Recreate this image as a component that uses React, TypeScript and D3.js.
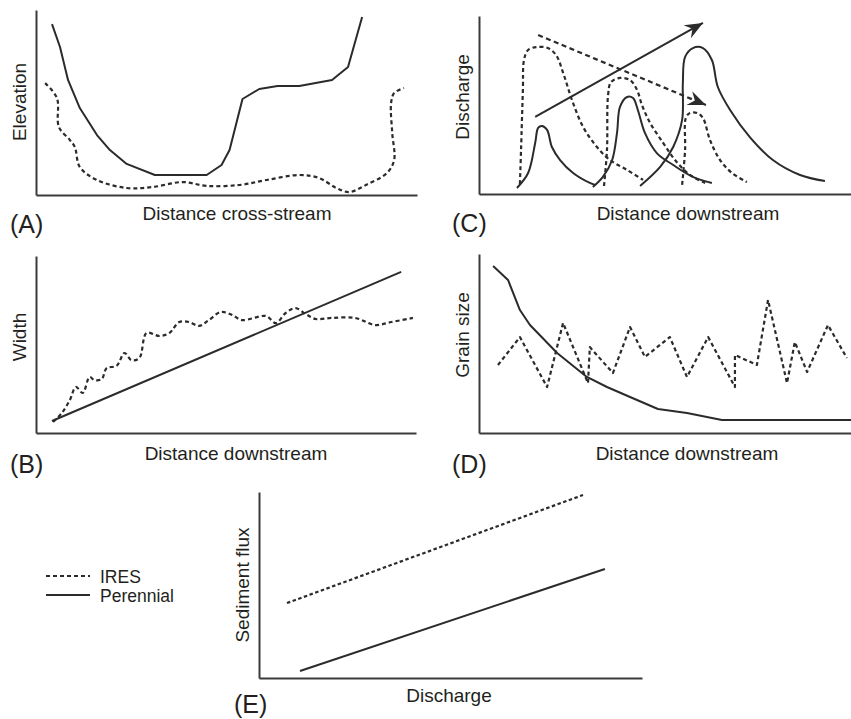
import React, { useEffect, useRef } from "react";
import * as d3 from "d3";

type Pt = [number, number];

// (A) cross-section elevation, x/y in % of axis span
const elevPerennial: Pt[] = [
  [4.2, 92.4], [6.3, 80.0], [8.4, 62.2], [11.5, 47.0], [16.0, 32.4], [19.4, 24.3],
  [23.8, 16.8], [31.2, 10.8], [44.8, 10.8], [48.7, 16.2], [50.8, 24.3], [52.6, 38.9],
  [54.2, 51.9], [58.6, 57.3], [63.4, 58.9], [69.1, 58.9], [77.7, 62.2], [81.9, 69.2],
  [85.6, 96.2],
];
const elevIres: Pt[] = [
  [2.4, 60.5], [5.5, 52.4], [6.0, 36.8], [8.9, 29.7], [10.2, 25.9], [11.5, 15.1],
  [16.0, 8.1], [23.8, 3.8], [30.6, 4.3], [38.5, 7.0], [44.8, 4.9], [53.4, 5.4],
  [60.5, 8.1], [69.1, 10.8], [74.3, 9.2], [78.8, 3.8], [82.2, 1.6], [86.6, 5.4],
  [92.1, 11.9], [94.0, 18.9], [93.5, 33.5], [93.2, 49.7], [94.0, 55.1], [96.6, 57.8],
];

// (B) width downstream
const widthPerennial: Pt[] = [[4.2, 6.8], [96.1, 91.0]];
const widthIres: Pt[] = [
  [4.5, 6.2], [6.8, 11.3], [8.9, 18.6], [10.5, 26.0], [12.3, 22.6], [14.1, 31.6],
  [15.4, 29.9], [17.3, 30.5], [18.6, 36.7], [21.2, 37.9], [23.3, 45.2], [25.1, 41.2],
  [27.2, 42.4], [29.1, 56.5], [32.5, 54.8], [35.1, 56.5], [37.7, 62.7], [40.3, 62.7],
  [42.9, 60.5], [45.5, 63.8], [48.7, 68.4], [51.6, 66.7], [54.2, 63.8], [60.5, 66.1],
  [63.1, 62.1], [65.7, 67.8], [68.3, 70.6], [71.0, 67.2], [73.6, 64.4], [77.7, 65.0],
  [84.0, 65.0], [89.3, 61.0], [93.5, 62.7], [99.2, 65.0],
];

// (C) flood hydrographs downstream
const hydroPerennial: Pt[][] = [
  [[10.2, 3.4], [13.2, 11.8], [15.1, 28.7], [15.9, 37.1], [16.9, 38.2], [18.3, 36.0],
   [19.6, 26.4], [21.8, 19.1], [25.3, 11.8], [29.8, 6.2], [31.2, 5.1]],
  [[30.6, 3.9], [33.3, 9.6], [35.8, 19.1], [37.1, 34.3], [37.9, 48.9], [39.8, 54.5],
   [41.4, 53.9], [42.7, 47.2], [44.6, 34.3], [47.8, 23.0], [52.2, 16.3], [57.5, 9.6],
   [62.6, 6.2]],
  [[43.3, 4.5], [48.7, 15.2], [52.2, 26.4], [54.6, 41.6], [54.8, 62.4], [55.4, 77.0],
   [57.5, 82.0], [60.2, 82.0], [62.6, 75.3], [64.2, 60.1], [67.5, 47.2], [72.8, 32.0],
   [79.0, 19.1], [86.3, 10.7], [93.0, 7.3]],
];
const hydroIres: Pt[][] = [
  [[11.0, 5.6], [11.3, 24.7], [11.8, 58.4], [12.1, 75.3], [13.2, 80.9], [15.6, 82.6],
   [18.5, 82.0], [20.7, 78.1], [22.8, 66.9], [25.0, 52.8], [28.0, 37.6], [31.7, 26.4],
   [35.2, 19.1], [39.8, 13.5], [44.1, 7.9]],
  [[33.6, 4.5], [34.4, 24.7], [34.7, 55.6], [35.5, 62.9], [37.9, 65.2], [40.6, 64.0],
   [42.5, 58.4], [43.8, 50.0], [46.0, 39.9], [49.5, 28.7], [52.7, 19.1], [56.7, 10.7],
   [60.8, 6.2]],
  [[54.6, 5.1], [55.4, 24.7], [55.6, 42.7], [56.7, 45.5], [58.6, 45.5], [60.2, 42.7],
   [62.1, 30.3], [64.8, 19.1], [68.0, 11.8], [72.0, 6.7]],
];
const trendPerennial: Pt[] = [[15.1, 43.3], [60.2, 96.1]];
const trendIres: Pt[] = [[15.9, 89.3], [61.0, 50.0]];

// (D) grain size downstream
const grainPerennial: Pt[] = [
  [3.8, 93.3], [7.8, 85.5], [11.0, 68.7], [13.7, 60.3], [21.0, 44.7], [29.0, 31.3],
  [34.4, 25.7], [40.6, 20.1], [48.1, 13.4], [55.9, 11.2], [65.3, 7.3], [100, 7.3],
];
const grainIres: Pt[] = [
  [5.1, 38.0], [11.0, 53.6], [18.3, 25.7], [22.6, 61.5], [29.3, 27.9], [29.8, 48.0],
  [36.0, 33.5], [40.6, 59.2], [44.6, 42.5], [51.3, 53.6], [55.9, 31.3], [61.6, 53.6],
  [68.8, 25.7], [68.8, 43.6], [74.7, 38.0], [77.7, 74.3], [82.8, 27.9], [84.9, 50.8],
  [88.2, 34.1], [93.8, 60.3], [98.9, 41.9],
];

// (E) sediment flux vs discharge
const fluxPerennial: Pt[] = [[10.7, 3.8], [90.3, 58.6]];
const fluxIres: Pt[] = [[7.3, 40.3], [84.6, 98.4]];

const legendLabels = ["IRES", "Perennial"];

const W = 851;
const H = 719;
const INK = "#2b2b2b";
const FONT = "'Liberation Sans', Arial, Helvetica, sans-serif";

interface Panel {
  key: string;
  letter: string;
  xLabel: string;
  yLabel: string;
  box: { left: number; right: number; top: number; bottom: number };
  xLabelAt: [number, number];
  yLabelMid: number;
  letterAt: [number, number];
}

const panels: Panel[] = [
  { key: "A", letter: "(A)", xLabel: "Distance cross-stream", yLabel: "Elevation",
    box: { left: 36, right: 417, top: 10, bottom: 195 }, xLabelAt: [237, 220], yLabelMid: 102, letterAt: [10, 233] },
  { key: "C", letter: "(C)", xLabel: "Distance downstream", yLabel: "Discharge",
    box: { left: 479, right: 851, top: 16, bottom: 194 }, xLabelAt: [688, 220], yLabelMid: 97, letterAt: [452, 232] },
  { key: "B", letter: "(B)", xLabel: "Distance downstream", yLabel: "Width",
    box: { left: 36, right: 416, top: 256, bottom: 433 }, xLabelAt: [236, 460], yLabelMid: 337, letterAt: [10, 473] },
  { key: "D", letter: "(D)", xLabel: "Distance downstream", yLabel: "Grain size",
    box: { left: 479, right: 851, top: 254, bottom: 433 }, xLabelAt: [687, 460], yLabelMid: 335, letterAt: [452, 473] },
  { key: "E", letter: "(E)", xLabel: "Discharge", yLabel: "Sediment flux",
    box: { left: 259, right: 642, top: 492, bottom: 678 }, xLabelAt: [449, 702], yLabelMid: 585, letterAt: [234, 713] },
];

const App: React.FC = () => {
  const svgRef = useRef<SVGSVGElement>(null);

  useEffect(() => {
    if (!svgRef.current) return;
    const svg = d3.select(svgRef.current);
    svg.selectAll("*").remove();

    // arrow head marker for panel C
    svg.append("defs")
      .append("marker")
      .attr("id", "head")
      .attr("viewBox", "-19 -8 20 16")
      .attr("refX", 0)
      .attr("refY", 0)
      .attr("markerUnits", "userSpaceOnUse")
      .attr("markerWidth", 20)
      .attr("markerHeight", 16)
      .attr("orient", "auto")
      .append("path")
      .attr("d", "M0,0 L-18,-7.5 L-12,0 L-18,7.5 Z")
      .attr("fill", INK);

    const scales: Record<string, { x: d3.ScaleLinear<number, number>; y: d3.ScaleLinear<number, number> }> = {};

    panels.forEach(p => {
      const x = d3.scaleLinear().domain([0, 100]).range([p.box.left, p.box.right]);
      const y = d3.scaleLinear().domain([0, 100]).range([p.box.bottom, p.box.top]);
      scales[p.key] = { x, y };

      const g = svg.append("g");

      // bare axes, no ticks
      g.append("g")
        .attr("transform", `translate(0,${p.box.bottom})`)
        .call(d3.axisBottom(x).ticks(0).tickSizeOuter(0))
        .select(".domain")
        .attr("stroke", "#3a3a3a")
        .attr("stroke-width", 2);
      g.append("g")
        .attr("transform", `translate(${p.box.left},0)`)
        .call(d3.axisLeft(y).ticks(0).tickSizeOuter(0))
        .select(".domain")
        .attr("stroke", "#3a3a3a")
        .attr("stroke-width", 2);

      g.append("text")
        .attr("x", p.xLabelAt[0])
        .attr("y", p.xLabelAt[1])
        .attr("text-anchor", "middle")
        .attr("font-size", 19)
        .attr("fill", "#231f20")
        .text(p.xLabel);

      g.append("text")
        .attr("transform", `translate(${p.box.left - 10},${p.yLabelMid}) rotate(-90)`)
        .attr("text-anchor", "middle")
        .attr("font-size", 19)
        .attr("fill", "#231f20")
        .text(p.yLabel);

      g.append("text")
        .attr("x", p.letterAt[0])
        .attr("y", p.letterAt[1])
        .attr("font-size", 25)
        .attr("fill", "#231f20")
        .text(p.letter);
    });

    const draw = (
      key: string,
      pts: Pt[],
      dashed: boolean,
      curve: d3.CurveFactory,
      opts: { dash?: string; marker?: boolean; width?: number } = {}
    ) => {
      const { x, y } = scales[key];
      const line = d3.line<Pt>().x(d => x(d[0])).y(d => y(d[1])).curve(curve);
      const path = svg.append("path")
        .datum(pts)
        .attr("fill", "none")
        .attr("stroke", INK)
        .attr("stroke-width", opts.width ?? (dashed ? 2.2 : 2))
        .attr("stroke-linejoin", "round")
        .attr("d", line);
      if (dashed) path.attr("stroke-dasharray", opts.dash ?? "4,3");
      if (opts.marker) path.attr("marker-end", "url(#head)");
    };

    // (A)
    draw("A", elevPerennial, false, d3.curveLinear);
    draw("A", elevIres, true, d3.curveCatmullRom.alpha(0.5));

    // (B)
    draw("B", widthPerennial, false, d3.curveLinear);
    draw("B", widthIres, true, d3.curveCatmullRom.alpha(0.5));

    // (C)
    hydroIres.forEach(h => draw("C", h, true, d3.curveCatmullRom.alpha(0.5)));
    hydroPerennial.forEach(h => draw("C", h, false, d3.curveCatmullRom.alpha(0.5)));
    draw("C", trendPerennial, false, d3.curveLinear, { marker: true });
    draw("C", trendIres, true, d3.curveLinear, { marker: true, dash: "5,3.5" });

    // (D)
    draw("D", grainPerennial, false, d3.curveLinear);
    draw("D", grainIres, true, d3.curveLinear);

    // (E)
    draw("E", fluxPerennial, false, d3.curveLinear);
    draw("E", fluxIres, true, d3.curveLinear, { dash: "3.5,2.5" });

    // legend
    const lg = svg.append("g").attr("transform", "translate(46,576)");
    legendLabels.forEach((label, i) => {
      const row = lg.append("g").attr("transform", `translate(0,${i * 19})`);
      const ln = row.append("line")
        .attr("x1", 0).attr("x2", 44)
        .attr("y1", 0).attr("y2", 0)
        .attr("stroke", INK)
        .attr("stroke-width", i === 0 ? 2.2 : 2);
      if (i === 0) ln.attr("stroke-dasharray", "4,3");
      row.append("text")
        .attr("x", 54)
        .attr("y", 6.5)
        .attr("font-size", 17.5)
        .attr("fill", "#231f20")
        .text(label);
    });
  }, []);

  return (
    <svg
      ref={svgRef}
      width={W}
      height={H}
      style={{ position: "absolute", left: 0, top: 0, background: "#fff", fontFamily: FONT }}
    />
  );
};

export default App;
